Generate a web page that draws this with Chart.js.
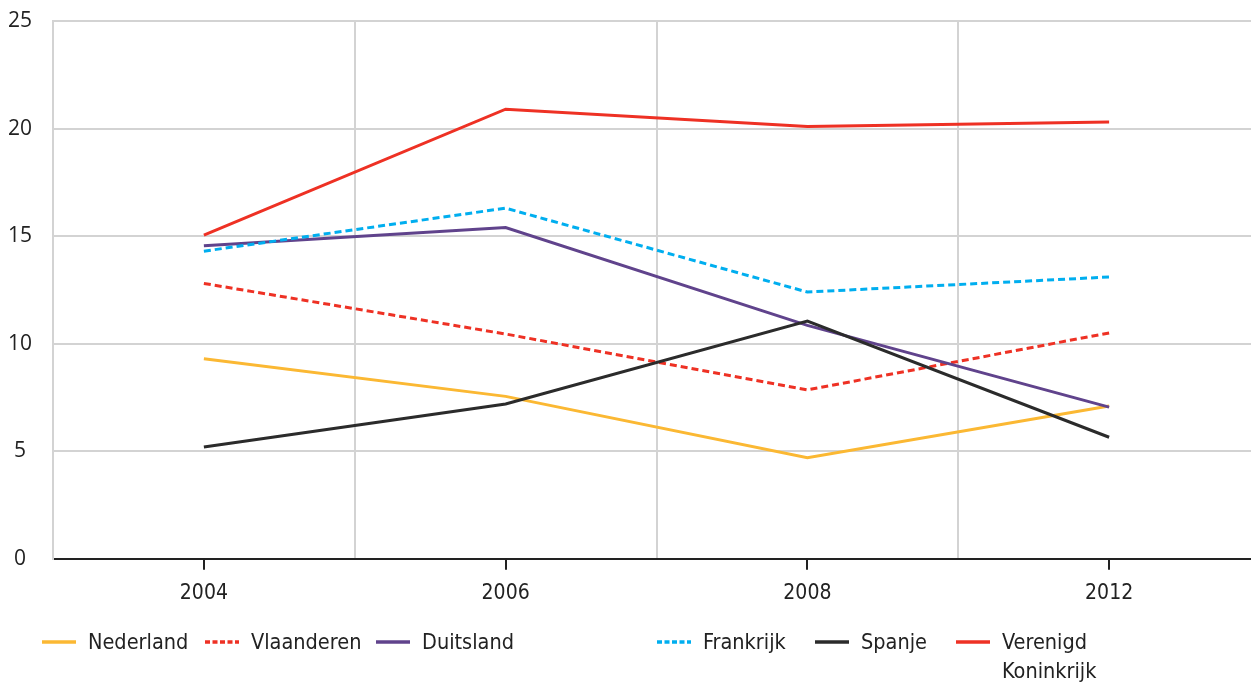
<!DOCTYPE html>
<html>
<head>
<meta charset="utf-8">
<script src="https://cdn.jsdelivr.net/npm/chart.js@4"></script>
<style>
  html, body { margin: 0; padding: 0; background: #fff; overflow: hidden; }
  #wrap { position: relative; width: 1260px; height: 628px; }
  #legend {
    position: absolute; left: 0; top: 627px; width: 1251px; height: 60px;
    font-family: "DejaVu Sans Condensed", sans-serif;
    font-size: 21.5px; color: #222;
  }
  .item { position: absolute; top: 0; display: flex; align-items: flex-start; }
  .item svg { margin-top: 12px; margin-right: 12px; flex: none; }
  .item span { line-height: 29px; }
</style>
</head>
<body>
<div id="wrap"><canvas id="chart"></canvas></div>
<div id="legend"></div>
<script>
// Data
const years = ["2004", "2006", "2008", "2012"];
const seriesNames = ["Nederland", "Vlaanderen", "Duitsland", "Frankrijk", "Spanje", "Verenigd Koninkrijk"];
const nederland  = [9.3, 7.55, 4.7, 7.1];
const vlaanderen = [12.8, 10.45, 7.85, 10.5];
const duitsland  = [14.55, 15.4, 10.85, 7.05];
const frankrijk  = [14.3, 16.3, 12.4, 13.1];
const spanje     = [5.2, 7.2, 11.05, 5.65];
const verenigdKoninkrijk = [15.05, 20.9, 20.1, 20.3];
const yTicks = [0, 5, 10, 15, 20, 25];

const seriesData = [nederland, vlaanderen, duitsland, frankrijk, spanje, verenigdKoninkrijk];
const colors = ["#fbb833", "#ee3124", "#60438c", "#00aeef", "#2b2b2b", "#ee3124"];
const dashes = [[], [7, 4], [], [7, 4], [], []];
const legendDashes = [[], [5, 2.5], [], [5, 2.5], [], []];
const legendLeft = [42, 205, 376, 657, 815, 956];

// tick marks at category centres (grid lines sit between categories)
const centreTicks = {
  id: "centreTicks",
  afterDraw(chart) {
    const x = chart.scales.x, ctx = chart.ctx, y0 = chart.chartArea.bottom;
    ctx.save();
    ctx.strokeStyle = "#222";
    ctx.lineWidth = 2;
    years.forEach((_, i) => {
      const px = Math.round(x.getPixelForValue(i));
      ctx.beginPath();
      ctx.moveTo(px, y0);
      ctx.lineTo(px, y0 + 11);
      ctx.stroke();
    });
    ctx.restore();
  }
};

const ctx = document.getElementById("chart").getContext("2d");
new Chart(ctx, {
  type: "line",
  data: {
    labels: years,
    datasets: seriesNames.map((name, i) => ({
      label: name,
      data: seriesData[i],
      borderColor: colors[i],
      backgroundColor: colors[i],
      borderWidth: 3,
      borderDash: dashes[i],
      pointRadius: 0,
      tension: 0,
      fill: false,
      order: seriesNames.length - i,
    })),
  },
  options: {
    responsive: true,
    maintainAspectRatio: false,
    animation: false,
    layout: { padding: { top: 21, right: 0, left: 0, bottom: 0 } },
    plugins: { legend: { display: false }, tooltip: { enabled: false } },
    scales: {
      x: {
        offset: true,
        grid: { offset: true, color: "#d3d3d3", lineWidth: 2, drawTicks: false },
        border: { color: "#222", width: 2 },
        ticks: {
          padding: 22,
          color: "#222",
          font: { family: "'DejaVu Sans Condensed', sans-serif", size: 21 },
        },
      },
      y: {
        min: 0,
        max: 25,
        afterFit(scale) { scale.width = 53; },
        afterBuildTicks(scale) { scale.ticks = yTicks.map(v => ({ value: v })); },
        // invisible tick marks push the labels left without adding vertical padding
        grid: { color: "#d3d3d3", lineWidth: 2, drawTicks: true, tickLength: 21, tickColor: "rgba(0,0,0,0)" },
        border: { color: "#d3d3d3", width: 2 },
        ticks: {
          padding: 0,
          crossAlign: "center",
          color: "#222",
          font: { family: "'Open Sans', sans-serif", size: 21 },
        },
      },
    },
  },
  plugins: [centreTicks],
});

// HTML legend (label wraps like the original)
const legend = document.getElementById("legend");
seriesNames.forEach((name, i) => {
  const item = document.createElement("div");
  item.className = "item";
  item.style.left = legendLeft[i] + "px";
  const dash = legendDashes[i].length ? `stroke-dasharray="${legendDashes[i].join(" ")}"` : "";
  item.innerHTML =
    `<svg width="34" height="6"><line x1="0" y1="3" x2="34" y2="3" stroke="${colors[i]}" stroke-width="3.5" ${dash}/></svg>` +
    `<span>${i === seriesNames.length - 1 ? "Verenigd<br>Koninkrijk" : name}</span>`;
  legend.appendChild(item);
});
</script>
</body>
</html>
